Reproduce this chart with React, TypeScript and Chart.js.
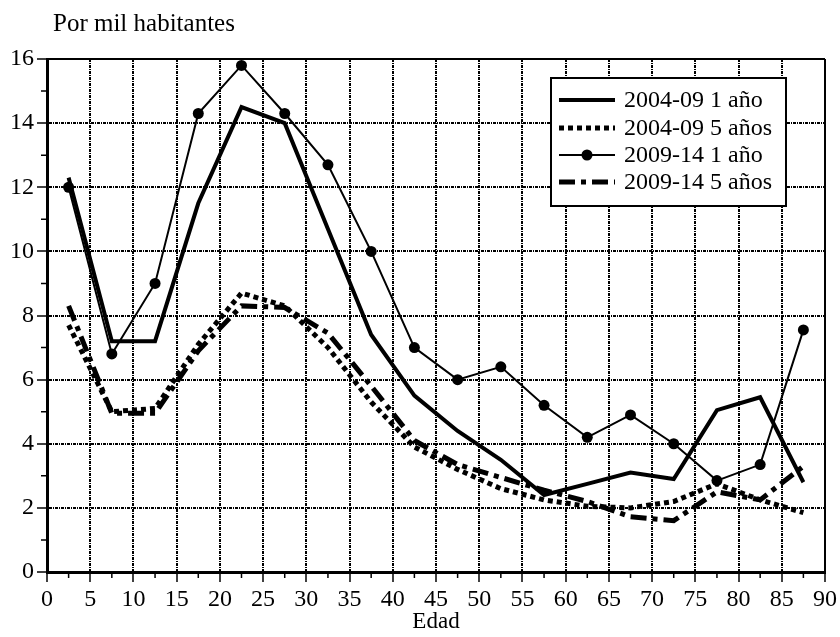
import React, { useEffect, useRef } from 'react';
import { Chart, registerables } from 'chart.js';
Chart.register(...registerables);

// Age group midpoints (Edad)
const ages = [2.5, 7.5, 12.5, 17.5, 22.5, 27.5, 32.5, 37.5, 42.5, 47.5, 52.5, 57.5, 62.5, 67.5, 72.5, 77.5, 82.5, 87.5];
// Series values (por mil habitantes)
const s0409_1 = [12.3, 7.2, 7.2, 11.5, 14.5, 14.0, 10.7, 7.4, 5.5, 4.4, 3.5, 2.4, 2.75, 3.1, 2.9, 5.05, 5.45, 2.8];
const s0409_5 = [7.7, 5.0, 5.1, 7.1, 8.7, 8.3, 7.0, 5.3, 3.9, 3.2, 2.6, 2.25, 2.05, 2.0, 2.2, 2.75, 2.25, 1.85];
const s0914_1 = [12.0, 6.8, 9.0, 14.3, 15.8, 14.3, 12.7, 10.0, 7.0, 6.0, 6.4, 5.2, 4.2, 4.9, 4.0, 2.85, 3.35, 7.55];
const s0914_5 = [8.3, 4.95, 4.95, 6.9, 8.3, 8.25, 7.45, 5.8, 4.1, 3.35, 2.95, 2.55, 2.2, 1.72, 1.6, 2.5, 2.25, 3.3];
const seriesLabels = ['2004-09 1 año', '2004-09 5 años', '2009-14 1 año', '2009-14 5 años'];
// Axis ticks
const xTicks = [0, 5, 10, 15, 20, 25, 30, 35, 40, 45, 50, 55, 60, 65, 70, 75, 80, 85, 90];
const yTicks = [0, 2, 4, 6, 8, 10, 12, 14, 16];
const xMinorTicks = [2.5, 7.5, 12.5, 17.5, 22.5, 27.5, 32.5, 37.5, 42.5, 47.5, 52.5, 57.5, 62.5, 67.5, 72.5, 77.5, 82.5, 87.5];
const yMinorTicks = [1, 3, 5, 7, 9, 11, 13, 15];
const yTitle = 'Por mil habitantes';
const xTitle = 'Edad';

const FONT = '"Liberation Serif", "Times New Roman", serif';

const toPoints = (vals: number[]) => vals.map((v, i) => ({ x: ages[i], y: v }));

const decorPlugin = {
  id: 'decor',
  afterDraw(chart: any) {
    const ctx = chart.ctx;
    const { left, right, top, bottom } = chart.chartArea;
    const xs = chart.scales.x;
    const ys = chart.scales.y;
    ctx.save();
    // frame top and right
    ctx.strokeStyle = '#000';
    ctx.setLineDash([]);
    ctx.lineWidth = 2;
    ctx.beginPath();
    ctx.moveTo(left, top);
    ctx.lineTo(right, top);
    ctx.moveTo(right, top);
    ctx.lineTo(right, bottom);
    ctx.stroke();
    // minor ticks
    ctx.lineWidth = 1.5;
    ctx.beginPath();
    xMinorTicks.forEach((v) => {
      const px = xs.getPixelForValue(v);
      ctx.moveTo(px, bottom);
      ctx.lineTo(px, bottom + 6);
    });
    yMinorTicks.forEach((v) => {
      const py = ys.getPixelForValue(v);
      ctx.moveTo(left - 6, py);
      ctx.lineTo(left, py);
    });
    ctx.stroke();
    // y title
    ctx.fillStyle = '#000';
    ctx.font = `25px ${FONT}`;
    ctx.textBaseline = 'middle';
    ctx.textAlign = 'left';
    ctx.fillText(yTitle, 53, 24);
    // legend
    const bx = right - 274;
    const by = top + 19;
    const bw = 235;
    const bh = 128;
    ctx.fillStyle = '#fff';
    ctx.fillRect(bx, by, bw, bh);
    ctx.lineWidth = 2;
    ctx.strokeStyle = '#000';
    ctx.strokeRect(bx, by, bw, bh);
    const rowY = [22, 50, 77, 104];
    chart.data.datasets.forEach((ds: any, i: number) => {
      const cy = by + rowY[i];
      ctx.save();
      ctx.strokeStyle = '#000';
      ctx.lineWidth = ds.borderWidth;
      ctx.setLineDash(ds.borderDash || []);
      ctx.beginPath();
      ctx.moveTo(bx + 8, cy);
      ctx.lineTo(bx + 64, cy);
      ctx.stroke();
      if (ds.pointRadius > 0) {
        ctx.setLineDash([]);
        ctx.fillStyle = '#000';
        ctx.beginPath();
        ctx.arc(bx + 36, cy, ds.pointRadius, 0, Math.PI * 2);
        ctx.fill();
      }
      ctx.restore();
      ctx.fillStyle = '#000';
      ctx.font = `24px ${FONT}`;
      ctx.textBaseline = 'middle';
      ctx.textAlign = 'left';
      ctx.fillText(ds.label, bx + 73, cy + 1);
    });
    ctx.restore();
  },
};

export default function App() {
  const ref = useRef<HTMLCanvasElement | null>(null);
  useEffect(() => {
    if (!ref.current) return;
    const gridOpts = {
      color: '#000',
      lineWidth: 2,
      drawTicks: true,
      tickLength: 10,
      tickColor: '#000',
      tickWidth: 1.5,
    };
    const gridDash = [3, 1, 1, 1];
    const chart = new Chart(ref.current, {
      type: 'line',
      data: {
        datasets: [
          {
            label: seriesLabels[0],
            data: toPoints(s0409_1),
            borderColor: '#000',
            borderWidth: 4,
            pointRadius: 0,
            tension: 0,
          },
          {
            label: seriesLabels[1],
            data: toPoints(s0409_5),
            borderColor: '#000',
            borderWidth: 5,
            borderDash: [5, 4],
            pointRadius: 0,
            tension: 0,
          },
          {
            label: seriesLabels[2],
            data: toPoints(s0914_1),
            borderColor: '#000',
            borderWidth: 2,
            pointRadius: 5.5,
            pointBackgroundColor: '#000',
            pointBorderWidth: 0,
            tension: 0,
          },
          {
            label: seriesLabels[3],
            data: toPoints(s0914_5),
            borderColor: '#000',
            borderWidth: 5,
            borderDash: [16, 6, 5, 6],
            pointRadius: 0,
            tension: 0,
          },
        ],
      },
      options: {
        animation: false,
        responsive: true,
        maintainAspectRatio: false,
        layout: { padding: { top: 59, right: 14, left: 0, bottom: 0 } },
        plugins: {
          legend: { display: false },
          tooltip: { enabled: false },
          title: { display: false },
        },
        scales: {
          x: {
            type: 'linear',
            min: xTicks[0],
            max: xTicks[xTicks.length - 1],
            afterBuildTicks: (scale: any) => {
              scale.ticks = xTicks.map((v) => ({ value: v }));
            },
            afterFit: (scale: any) => {
              scale.height = 65;
            },
            ticks: {
              autoSkip: false,
              maxRotation: 0,
              padding: 3,
              color: '#000',
              font: { family: FONT, size: 24 },
              callback: (v: any) => String(v),
            },
            grid: gridOpts,
            border: { display: true, color: '#000', width: 3, dash: gridDash },
            title: {
              display: true,
              text: xTitle,
              color: '#000',
              font: { family: FONT, size: 23 },
              padding: { top: 0, bottom: 1 },
            },
          },
          y: {
            type: 'linear',
            min: yTicks[0],
            max: yTicks[yTicks.length - 1],
            afterBuildTicks: (scale: any) => {
              scale.ticks = yTicks.map((v) => ({ value: v }));
            },
            afterFit: (scale: any) => {
              scale.width = 47;
            },
            ticks: {
              autoSkip: false,
              padding: 3,
              color: '#000',
              font: { family: FONT, size: 24 },
              callback: (v: any) => String(v),
            },
            grid: gridOpts,
            border: { display: true, color: '#000', width: 3, dash: gridDash },
          },
        },
      },
      plugins: [decorPlugin],
    } as any);
    return () => chart.destroy();
  }, []);
  return (
    <div style={{ position: 'fixed', left: 0, top: 0, width: 840, height: 637, background: '#fff' }}>
      <canvas ref={ref} />
    </div>
  );
}
